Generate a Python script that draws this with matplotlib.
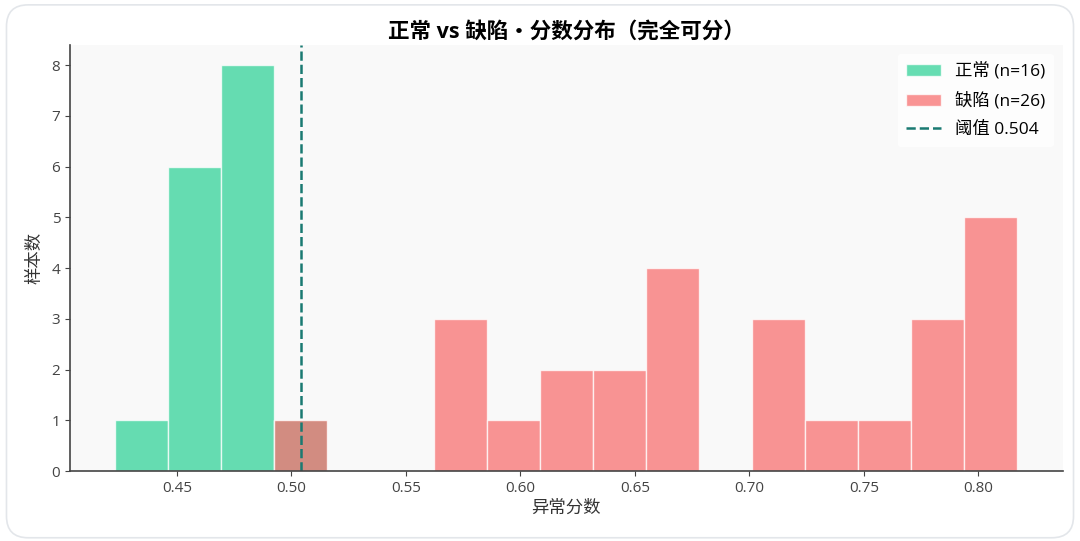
import numpy as np
import matplotlib
matplotlib.use("Agg")
import matplotlib.pyplot as plt
from matplotlib.patches import FancyBboxPatch

plt.rcParams['font.family'] = ['Open Sans', 'Noto Sans CJK SC', 'DejaVu Sans']
plt.rcParams['axes.unicode_minus'] = False

# Data
bin_lo, bin_hi, n_bins = 0.423, 0.817, 17
normal_counts = [1, 6, 8, 1, 0, 0, 0, 0, 0, 0, 0, 0, 0, 0, 0, 0, 0]
defect_counts = [0, 0, 0, 1, 0, 0, 3, 1, 2, 2, 4, 0, 3, 1, 1, 3, 5]
threshold = 0.504
labels = ["正常 (n=16)", "缺陷 (n=26)", "阈值 0.504"]

edges = np.linspace(bin_lo, bin_hi, n_bins + 1)
centers = (edges[:-1] + edges[1:]) / 2

fig = plt.figure(figsize=(10.8, 5.41), dpi=100)
fig.patch.set_facecolor('white')
card = FancyBboxPatch((0.006, 0.006), 0.988, 0.985, boxstyle="round,pad=0,rounding_size=0.02",
                      transform=fig.transFigure, facecolor='white', edgecolor='#e3e6ea',
                      linewidth=1.2, zorder=-10, mutation_aspect=2.0)
fig.patches.append(card)

ax = fig.add_axes([0.0648, 0.129, 0.919, 0.788])
ax.set_facecolor('#f9f9f9')

ax.hist(centers, bins=edges, weights=normal_counts, color='#34d399', alpha=0.75,
        edgecolor='white', linewidth=1, label=labels[0])
ax.hist(centers, bins=edges, weights=defect_counts, color='#f87171', alpha=0.75,
        edgecolor='white', linewidth=1, label=labels[1])
ax.axvline(threshold, color='#1a7a72', linestyle='--', linewidth=1.8, label=labels[2])

ax.set_title("正常 vs 缺陷・分数分布（完全可分）", fontsize=15.5, fontweight='bold', pad=5)
ax.set_xlabel("异常分数", fontsize=12.5, color='#333333', labelpad=3)
ax.set_ylabel("样本数", fontsize=12.5, color='#333333', labelpad=6)
ax.tick_params(labelsize=11, colors='#444444')
for s in ['top', 'right']:
    ax.spines[s].set_visible(False)
for s in ['left', 'bottom']:
    ax.spines[s].set_color('#444444')
    ax.spines[s].set_linewidth(1.2)

leg = ax.legend(loc='upper right', fontsize=12.5, frameon=True, facecolor='white',
                edgecolor='none', framealpha=0.8, labelspacing=0.72, borderpad=0.5)

fig.savefig("out.png", dpi=100)
